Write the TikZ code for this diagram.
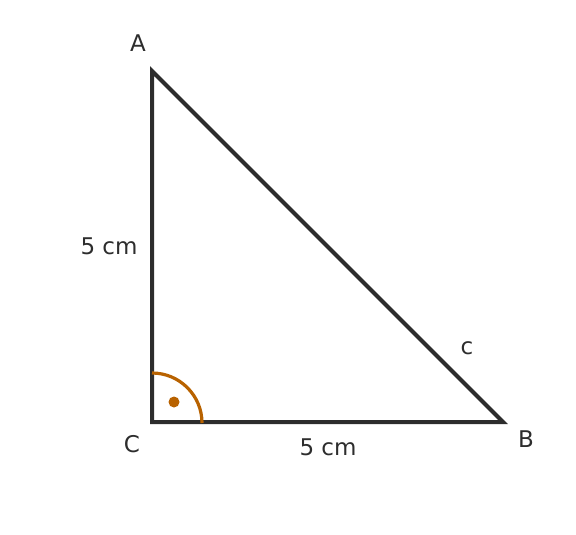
\documentclass[tikz,border=0pt]{standalone}
\usepackage{fontspec}
\setmainfont{DejaVu Sans}
\definecolor{edge}{HTML}{2D2D2D}
\definecolor{anglecol}{HTML}{B86200}
\begin{document}
\begin{tikzpicture}[x=1pt,y=-1pt,
  side/.style={draw=edge,line width=4pt},
  lbl/.style={text=edge,font=\fontsize{23}{27}\selectfont,inner sep=0pt}]
\useasboundingbox (0,0) rectangle (576,535);
\coordinate (C) at (152,422);
\coordinate (A) at (152,71);
\coordinate (B) at (503,422);
\draw[side,line join=miter] (A) -- (C) -- (B) -- cycle;
\draw[draw=anglecol,line width=3.2pt] (152,373) arc[start angle=-90,end angle=0,radius=50];
\fill[anglecol] (174,402) circle[radius=5.5];
\node[lbl] (lA) at (138,43) {A};
\node[lbl] (lB) at (526,439) {B};
\node[lbl] (lC) at (132,444) {C};
\node[lbl] (la) at (109,246) {5 cm};
\node[lbl] (lb) at (328,447) {5 cm};
\node[lbl] (lc) at (467,348) {c};
\end{tikzpicture}
\end{document}
